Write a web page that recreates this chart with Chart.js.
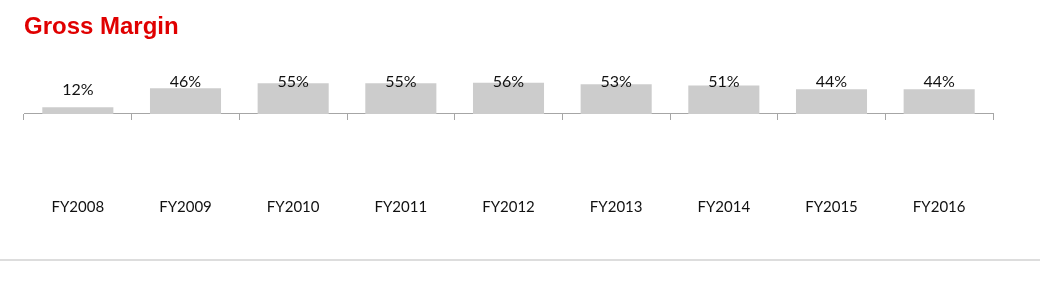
<!DOCTYPE html>
<html>
<head>
<meta charset="utf-8">
<script src="https://cdn.jsdelivr.net/npm/chart.js@4/dist/chart.umd.min.js"></script>
<style>
  html, body { margin: 0; padding: 0; background: #fff; }
  #wrap { position: relative; width: 1053px; height: 294px; }
  #rule { position: absolute; left: 0; top: 259px; width: 1040px; height: 2px; background: #dddddd; }
</style>
</head>
<body>
<div id="wrap">
  <canvas id="gm" width="1053" height="294"></canvas>
  <div id="rule"></div>
</div>
<script>
/* ── dati ─────────────────────────────── */
var years   = ['FY2008', 'FY2009', 'FY2010', 'FY2011', 'FY2012', 'FY2013', 'FY2014', 'FY2015', 'FY2016'];
var margins = [12, 46, 55, 55, 56, 53, 51, 44, 44];

/* etichette % sopra le barre (stile Excel, bloccate in alto) */
var barLabels = {
  id: 'barLabels',
  afterDatasetsDraw: function(chart) {
    var ctx  = chart.ctx;
    var meta = chart.getDatasetMeta(0);
    var top  = chart.chartArea.top;
    ctx.save();
    ctx.font = '16px Lato';
    ctx.fillStyle = '#111';
    ctx.textAlign = 'center';
    ctx.textBaseline = 'middle';
    meta.data.forEach(function(bar, i) {
      var y = Math.max(bar.y - 17, top + 7);
      ctx.fillText(margins[i] + '%', bar.x, y);
    });
    ctx.restore();
  }
};

new Chart(document.getElementById('gm'), {
  type: 'bar',
  data: {
    labels: years,
    datasets: [{
      data: margins,
      backgroundColor: '#cccccc',
      borderWidth: 0,
      categoryPercentage: 1,
      barPercentage: 0.66,
    }],
  },
  plugins: [barLabels],
  options: {
    responsive: false,
    animation: false,
    layout: { padding: { left: 24, right: 60, top: 0, bottom: 3 } },
    plugins: {
      legend:  { display: false },
      tooltip: { enabled: false },
      title: {
        display: true,
        text: 'Gross Margin',
        align: 'start',
        color: '#e00000',
        font: { family: 'Liberation Sans', size: 24, weight: 'bold', lineHeight: 1.2 },
        padding: { top: 13, bottom: 33 },
      },
    },
    scales: {
      x: {
        border: { display: true, color: '#a6a6a6', width: 1 },
        grid: {
          display: true,
          drawOnChartArea: false,
          drawTicks: true,
          tickLength: 6,
          color: '#a6a6a6',
        },
        ticks: {
          padding: 3,
          color: '#111',
          // lineHeight alto: spinge le etichette in basso senza allargare i margini laterali
          font: { family: 'Lato', size: 15, lineHeight: 11.2 },
          maxRotation: 0,
        },
        afterFit: function(scale) { scale.height = 177; },
      },
      y: {
        display: false,
        min: 0,
        max: 70,
      },
    },
  },
});
</script>
</body>
</html>
